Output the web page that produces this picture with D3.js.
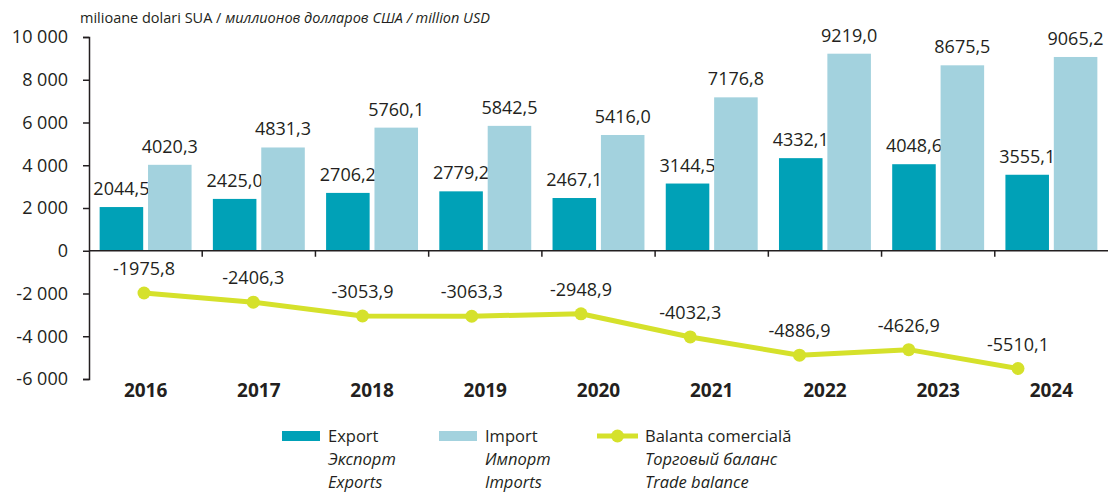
<!DOCTYPE html>
<html>
<head>
<meta charset="utf-8">
<script src="https://cdn.jsdelivr.net/npm/d3@7"></script>
<style>
  html, body { margin: 0; padding: 0; background: #ffffff; }
  svg { display: block; font-family: "Open Sans", "Noto Sans", sans-serif; }
  text { fill: #231f20; }
</style>
</head>
<body>
<svg id="chart" width="1108" height="493"></svg>
<script>
// Foreign trade of goods, million USD
const years = ["2016", "2017", "2018", "2019", "2020", "2021", "2022", "2023", "2024"];
const exportsVal = [2044.5, 2425.0, 2706.2, 2779.2, 2467.1, 3144.5, 4332.1, 4048.6, 3555.1];
const importsVal = [4020.3, 4831.3, 5760.1, 5842.5, 5416.0, 7176.8, 9219.0, 8675.5, 9065.2];
const balanceVal = [-1975.8, -2406.3, -3053.9, -3063.3, -2948.9, -4032.3, -4886.9, -4626.9, -5510.1];
const yTicks = [-6000, -4000, -2000, 0, 2000, 4000, 6000, 8000, 10000];

const unitLabel = ["milioane dolari SUA / ", "миллионов долларов США / million USD"];
const legendItems = [
  { key: "export", lines: ["Export", "Экспорт", "Exports"] },
  { key: "import", lines: ["Import", "Импорт", "Imports"] },
  { key: "balance", lines: ["Balanta comercială", "Торговый баланс", "Trade balance"] }
];

const colors = { export: "#00a1b7", import: "#a3d2de", balance: "#d5e12b" };

const svg = d3.select("#chart");
const plot = { left: 89, right: 1108, top: 37, bottom: 379 };

const loc = d3.formatLocale({ decimal: ",", thousands: " ", grouping: [3], currency: ["", ""], minus: "-" });
const tickFmt = loc.format(",");
const valFmt = loc.format(".1f");

const x = d3.scaleBand().domain(years).range([plot.left, plot.right]).padding(0);
const xInner = d3.scaleBand().domain(["export", "import"]).range([0, x.bandwidth()])
  .paddingInner(0.1).paddingOuter(0.22);
// the balance line runs on its own, slightly narrower point scale
const xLine = d3.scalePoint().domain(years).range([plot.left + 55, plot.right - 90]);
const y = d3.scaleLinear().domain([-6000, 10000]).range([plot.bottom, plot.top]);

// unit caption
const cap = svg.append("text").attr("x", 80).attr("y", 23).style("font-size", "14.5px");
cap.append("tspan").text(unitLabel[0]);
cap.append("tspan").style("font-style", "italic").text(unitLabel[1]);

// bars
const g = svg.append("g");
years.forEach((yr, i) => {
  const x0 = x(yr);
  [["export", exportsVal[i]], ["import", importsVal[i]]].forEach(([k, v]) => {
    const bx = x0 + xInner(k);
    g.append("rect")
      .attr("x", bx).attr("y", y(v))
      .attr("width", xInner.bandwidth()).attr("height", y(0) - y(v))
      .attr("fill", colors[k]);
    g.append("text")
      .attr("x", bx + xInner.bandwidth() / 2).attr("y", y(v) - 12)
      .attr("text-anchor", "middle").style("font-size", "18px")
      .text(valFmt(v));
  });
});

// y axis
const yAxis = svg.append("g").attr("transform", `translate(${plot.left},0)`)
  .call(d3.axisLeft(y).tickValues(yTicks).tickFormat(tickFmt).tickSize(6).tickPadding(15));
yAxis.selectAll("path, line").attr("stroke", "#231f20").attr("stroke-width", 1.5);
yAxis.selectAll("text").style("font-size", "18px").attr("fill", "#231f20")
  .style("font-family", "\"Open Sans\", sans-serif");

// zero line with category separators
const zx = svg.append("g");
zx.append("line").attr("x1", plot.left).attr("x2", plot.right).attr("y1", y(0)).attr("y2", y(0))
  .attr("stroke", "#231f20").attr("stroke-width", 1.5);
years.slice(1).forEach(yr => {
  zx.append("line").attr("x1", x(yr)).attr("x2", x(yr)).attr("y1", y(0)).attr("y2", y(0) + 6)
    .attr("stroke", "#231f20").attr("stroke-width", 1.5);
});

// year labels
svg.append("g").selectAll("text").data(years).join("text")
  .attr("x", d => x(d) + x.bandwidth() / 2).attr("y", 397)
  .attr("text-anchor", "middle").style("font-size", "19px").style("font-weight", "700")
  .text(d => d);

// trade balance line
const cx = (d, i) => xLine(years[i]);
svg.append("path").datum(balanceVal)
  .attr("d", d3.line().x(cx).y(d => y(d)))
  .attr("fill", "none").attr("stroke", colors.balance).attr("stroke-width", 5)
  .attr("stroke-linejoin", "round");
svg.append("g").selectAll("circle").data(balanceVal).join("circle")
  .attr("cx", cx).attr("cy", d => y(d)).attr("r", 6.5).attr("fill", colors.balance);
svg.append("g").selectAll("text").data(balanceVal).join("text")
  .attr("x", cx).attr("y", d => y(d) - 18)
  .attr("text-anchor", "middle").style("font-size", "18px")
  .text(d => valFmt(d));

// legend
const legX = [282, 439, 597];
legendItems.forEach((it, i) => {
  const lg = svg.append("g").attr("transform", `translate(${legX[i]},0)`);
  if (it.key === "balance") {
    lg.append("line").attr("x1", 0).attr("x2", 41).attr("y1", 436).attr("y2", 436)
      .attr("stroke", colors.balance).attr("stroke-width", 5);
    lg.append("circle").attr("cx", 20.5).attr("cy", 436).attr("r", 6.5).attr("fill", colors.balance);
  } else {
    lg.append("rect").attr("x", 0).attr("y", 431).attr("width", 38).attr("height", 10)
      .attr("fill", colors[it.key]);
  }
  const tx = it.key === "balance" ? 48 : 46;
  it.lines.forEach((t, j) => {
    lg.append("text").attr("x", tx).attr("y", 442 + j * 23)
      .style("font-size", "16.5px").style("font-style", j === 0 ? "normal" : "italic")
      .text(t);
  });
});
</script>
</body>
</html>
